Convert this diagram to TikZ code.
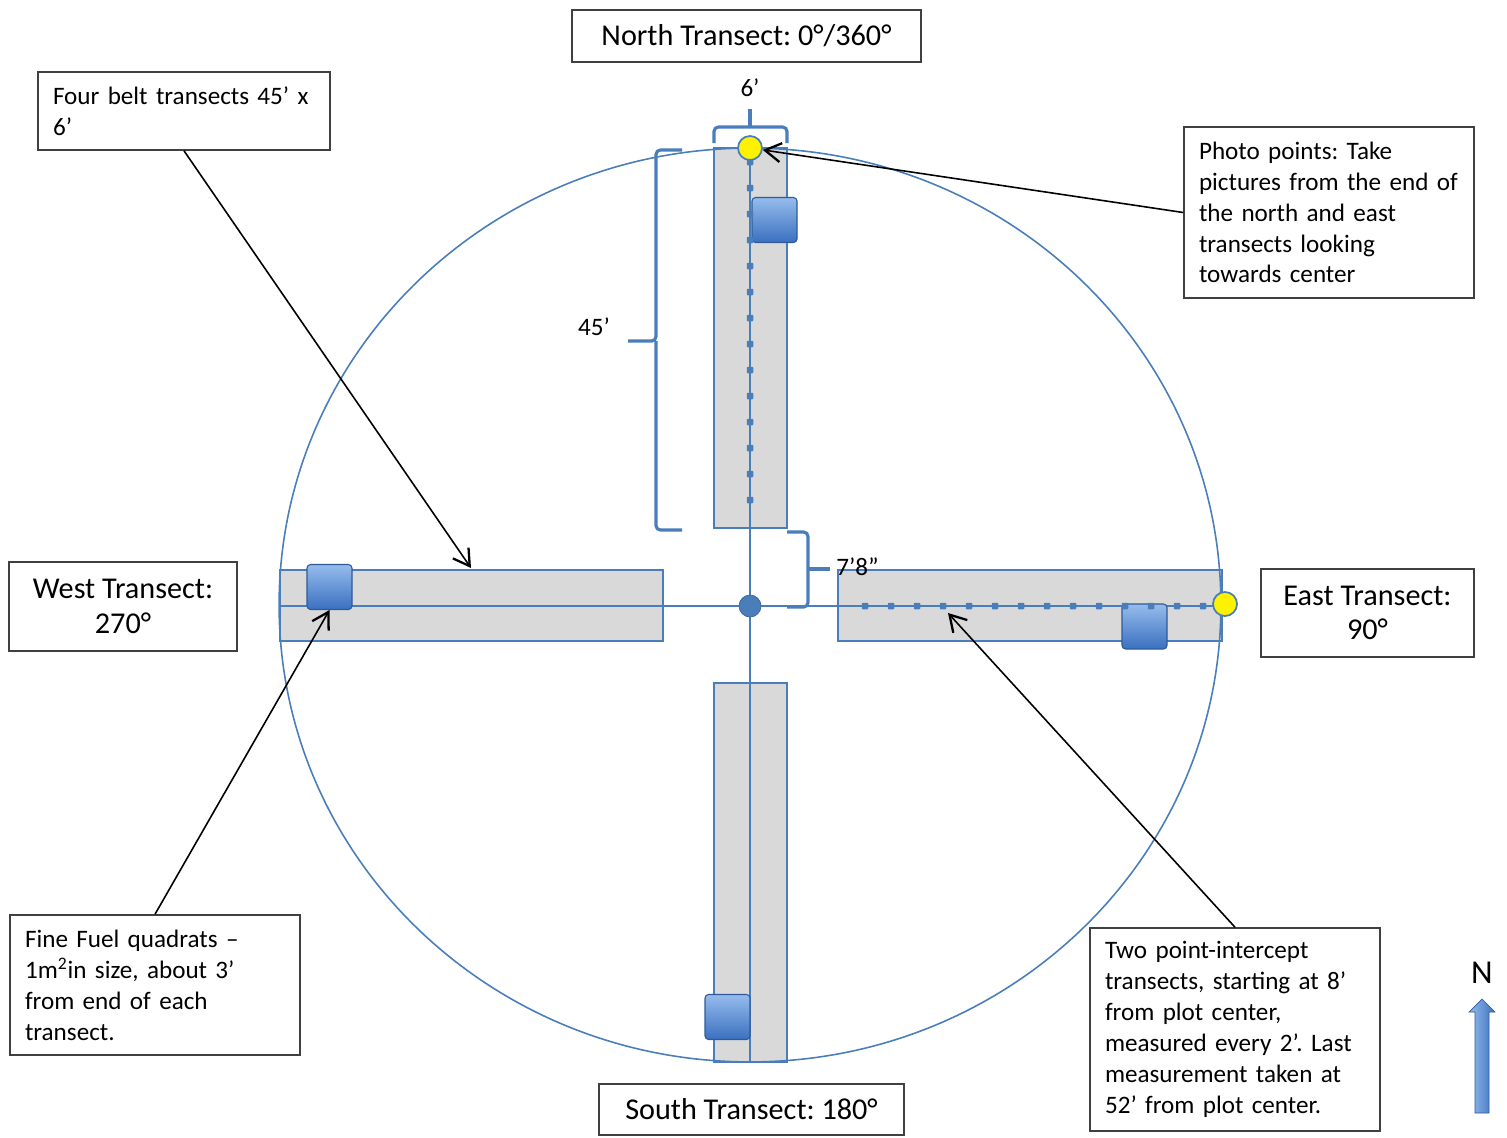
\documentclass[tikz,border=0pt]{standalone}
\usepackage{fontspec}
\setmainfont{Carlito}
\usetikzlibrary{positioning}
\usetikzlibrary{calc,arrows.meta}
\definecolor{plotblue}{RGB}{74,126,187}
\definecolor{beltgray}{RGB}{217,217,217}
\definecolor{quadtop}{RGB}{150,188,236}
\definecolor{quadbot}{RGB}{58,112,192}
\frenchspacing

\tikzset{
  belt/.style={draw=plotblue, line width=1pt, fill=beltgray},
  brc/.style={draw=plotblue, line width=1.8pt, rounded corners=2.5pt},
  quad/.style={draw=quadbot!80!black, line width=0.6pt, rounded corners=2pt,
    top color=quadtop, bottom color=quadbot, minimum size=0.9cm, inner sep=0pt},
  ypt/.style={circle, draw=plotblue, line width=1pt, fill=yellow, minimum size=0.48cm, inner sep=0pt},
  dot/.style={rectangle, rounded corners=0.5pt, fill=plotblue, minimum size=0.13cm, inner sep=0pt},
  title/.style={draw=black!75, line width=0.9pt, fill=white, align=center,
    inner sep=0pt, font=\fontsize{17.2}{19.6}\selectfont},
  desc/.style={draw=black!75, line width=0.9pt, fill=white, align=left,
    inner xsep=0.3cm, inner ysep=0pt, text width=5.2cm, font=\fontsize{14.3}{17.6}\selectfont},
  lbl/.style={inner sep=0pt, font=\fontsize{14.3}{17}\selectfont},
  pointer/.style={draw=black, line width=0.9pt, -{Straight Barb[length=3.2mm,width=3.8mm,line width=1.3pt]}}
}

\begin{document}
\begin{tikzpicture}[x=0.02cm, y=-0.02cm]
  \useasboundingbox (0,0) rectangle (1507,1137);

  % the four belts
  \draw[belt] (714,148) rectangle (787,528);
  \draw[belt] (714,683) rectangle (787,1062);
  \draw[belt] (280,570) rectangle (663,641);
  \draw[belt] (838,570) rectangle (1222,641);

  % plot circle and axes
  \draw[plotblue, line width=0.9pt] (750,148) -- (750,1062);
  \draw[plotblue, line width=0.9pt] (280,606) -- (1222,606);
  \draw[plotblue, line width=0.9pt] (750,605) ellipse [x radius=9.42cm, y radius=9.14cm];
  \node(c) [circle, fill=plotblue, draw=plotblue!80!black, minimum size=0.44cm, inner sep=0pt] at (750,606) {};

  % fine fuel quadrats
  \node(qn) [quad] at (774.5,220) {};
  \node(qw) [quad] at (329.5,587) {};
  \node(qe) [quad] at (1144.5,626.5) {};
  \node(qs) [quad] at (727.5,1017) {};

  % point intercepts
  \foreach \i in {0,...,13} {
    \node[dot] at (750,{500-\i*26}) {};
    \node[dot] at ({865+\i*26},606) {};
  }
  \node(yn) [ypt] at (750,148) {};
  \node(ye) [ypt] at (1225,604) {};

  % braces
  \draw[brc] (714,143) -- (714,127) -- (787,127) -- (787,143);
  \draw[brc] (750,127) -- (750,109);
  \node(w6) [lbl] at (750,88) {6’};
  \draw[brc] (682,150) -- (656,150) -- (656,341) -- (628,341);
  \draw[brc] (656,341) -- (656,530) -- (682,530);
  \node(l45) [lbl] at (594,327) {45’};
  \draw[brc] (787,532) -- (808,532) -- (808,607) -- (787,607);
  \draw[brc] (808,569) -- (830,569);
  \node(l78) [lbl, anchor=west] at (836,567) {7’8”};

  % transect names
  \node(nt) [title, minimum width=6.98cm, minimum height=1.04cm] at (746.5,36) {North Transect: 0°/360°};
  \node(st) [title, minimum width=6.1cm, minimum height=1.02cm] at (751.5,1109.5) {South Transect: 180°};
  \node(wt) [title, minimum width=4.56cm, minimum height=1.78cm] at (123,606.5) {West Transect:\\270°};
  \node(et) [title, minimum width=4.26cm, minimum height=1.76cm] at (1367.5,613) {East Transect:\\90°};

  % notes
  \node(belts) [desc, text width=5.24cm, minimum height=1.56cm] at (184,111)
    {Four belt transects 45’ x\\6’};
  \node(photo) [desc, minimum height=3.42cm] at (1329,212.5)
    {Photo points: Take\\pictures from the end of\\the north and east\\transects looking\\towards center};
  \node(fuel) [desc, minimum height=2.8cm] at (155,985)
    {Fine Fuel quadrats –\\1m\textsuperscript{2}in size, about 3’\\from end of each\\transect.};
  \node(pit) [desc, minimum height=4.06cm] at (1235,1029.5)
    {Two point-intercept\\transects, starting at 8’\\from plot center,\\measured every 2’. Last\\measurement taken at\\52’ from plot center.};

  \coordinate(beltend) at (471,568);
  \coordinate(pitend) at (948,613);
  \draw[pointer] (belts.south) -- (beltend);
  \draw[pointer] (photo.west) -- (yn);
  \draw[pointer] (fuel.north) -- (qw.south);
  \draw[pointer] (pit.north) -- (pitend);

  % north arrow
  \node(n) [font=\fontsize{19}{22}\selectfont] at (1482,973) {N};
  \shade[left color=quadtop, right color=quadbot, draw=quadbot!80!black, line width=0.4pt]
    (1475,1113) -- (1475,1012) -- (1469,1012) -- (1482,999) -- (1495,1012)
    -- (1489,1012) -- (1489,1113) -- cycle;
\end{tikzpicture}
\end{document}
